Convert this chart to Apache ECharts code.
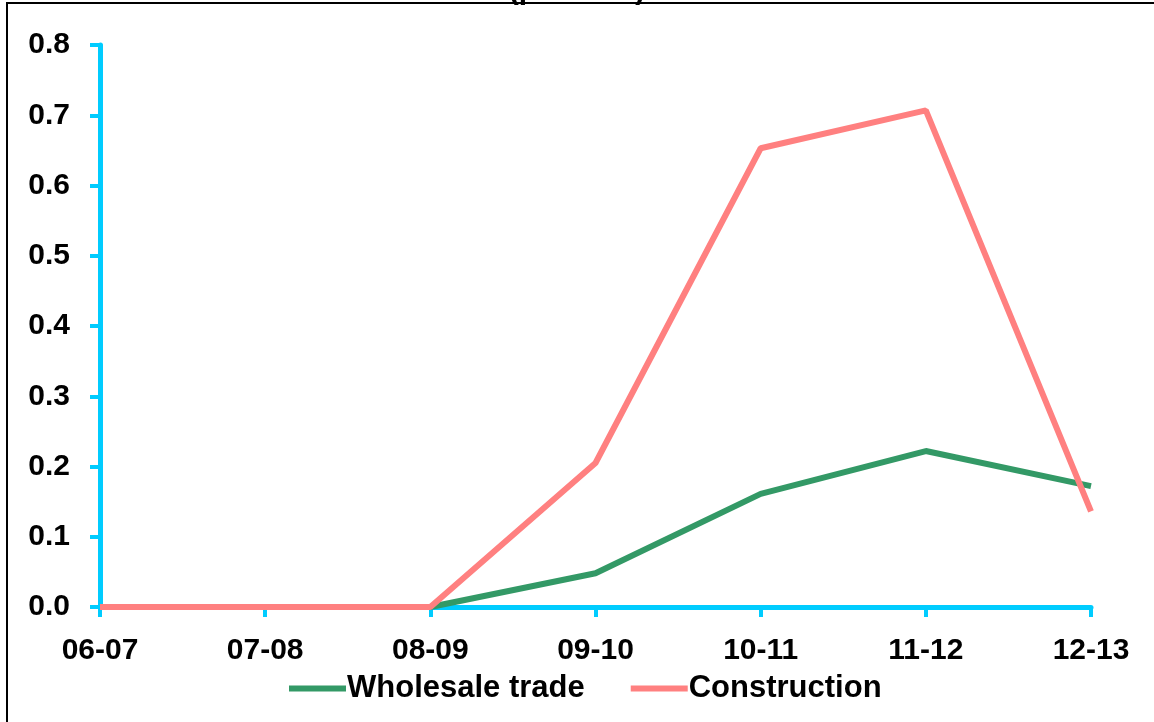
<!DOCTYPE html>
<html>
<head>
<meta charset="utf-8">
<script src="https://cdn.jsdelivr.net/npm/echarts@6/dist/echarts.min.js"></script>
<style>html,body{margin:0;padding:0;background:#fff}#c{width:1154px;height:722px}</style>
</head>
<body>
<div id="c"></div>
<script>
const categories = ['06-07','07-08','08-09','09-10','10-11','11-12','12-13'];
const wholesaleTrade = [0, 0, 0, 0.048, 0.161, 0.222, 0.172];
const construction = [0, 0, 0, 0.205, 0.653, 0.707, 0.136];
const seriesNames = ['Wholesale trade', 'Construction'];
const titleText = '(per cent)';

const font = 'Liberation Sans, Arial, sans-serif';
const chart = echarts.init(document.getElementById('c'));
chart.setOption({
  animation: false,
  backgroundColor: '#fff',
  title: {
    text: titleText, left: 'center', top: -29,
    textStyle: {fontFamily: font, fontWeight: 'bold', fontSize: 30, color: '#000'}
  },
  graphic: [{
    type: 'rect', silent: true, z: -1,
    shape: {x: 7, y: 3, width: 1300, height: 900},
    style: {fill: 'none', stroke: '#000', lineWidth: 2}
  }],
  grid: {left: 100, right: 63, top: 45, bottom: 115, containLabel: false},
  legend: {
    left: 284, top: 668,
    itemWidth: 57, itemHeight: 6, itemGap: 46,
    textStyle: {fontFamily: font, fontWeight: 'bold', fontSize: 31, color: '#000', padding: [0,0,0,-4]},
    data: seriesNames.map(n => ({name: n, icon: 'rect'}))
  },
  xAxis: {
    type: 'category', data: categories, boundaryGap: false,
    axisLine: {lineStyle: {color: '#00CCFF', width: 5}},
    axisTick: {show: true, length: 10, lineStyle: {color: '#00CCFF', width: 4}},
    axisLabel: {fontFamily: font, fontWeight: 'bold', fontSize: 30, color: '#000', margin: 29},
    splitLine: {show: false}
  },
  yAxis: {
    type: 'value', min: 0, max: 0.8, interval: 0.1,
    axisLine: {show: true, lineStyle: {color: '#00CCFF', width: 5}},
    axisTick: {show: true, length: 10, lineStyle: {color: '#00CCFF', width: 4}},
    axisLabel: {fontFamily: font, fontWeight: 'bold', fontSize: 30, color: '#000', margin: 30,
      formatter: v => v.toFixed(1)},
    splitLine: {show: false}
  },
  series: [
    {name: seriesNames[0], type: 'line', data: wholesaleTrade, symbol: 'none',
     lineStyle: {color: '#339966', width: 6}, itemStyle: {color: '#339966'}},
    {name: seriesNames[1], type: 'line', data: construction, symbol: 'none',
     lineStyle: {color: '#FF8080', width: 6}, itemStyle: {color: '#FF8080'}}
  ]
});
</script>
</body>
</html>
